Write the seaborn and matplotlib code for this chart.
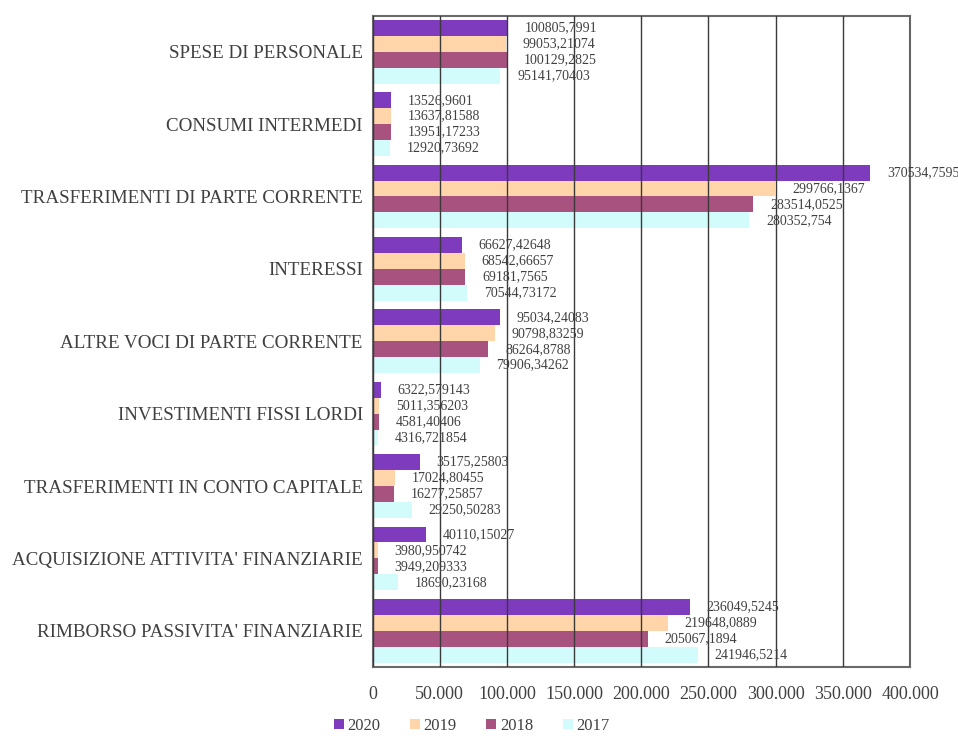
import matplotlib
matplotlib.use("Agg")
import matplotlib.pyplot as plt
from matplotlib.patches import Patch
from matplotlib.ticker import FuncFormatter, MultipleLocator, FixedLocator
import seaborn as sns
import pandas as pd
import numpy as np

categories = [
    "SPESE DI PERSONALE",
    "CONSUMI INTERMEDI",
    "TRASFERIMENTI DI PARTE CORRENTE",
    "INTERESSI",
    "ALTRE VOCI DI PARTE CORRENTE",
    "INVESTIMENTI FISSI LORDI",
    "TRASFERIMENTI IN CONTO CAPITALE",
    "ACQUISIZIONE ATTIVITA' FINANZIARIE",
    "RIMBORSO PASSIVITA' FINANZIARIE",
]
years = ["2020", "2019", "2018", "2017"]
v2020 = [100805.7991, 13526.9601, 370534.7595, 66627.42648, 95034.24083,
         6322.579143, 35175.25803, 40110.15027, 236049.5245]
v2019 = [99053.21074, 13637.81588, 299766.1367, 68542.66657, 90798.83259,
         5011.356203, 17024.80455, 3980.950742, 219648.0889]
v2018 = [100129.2825, 13951.17233, 283514.0525, 69181.7565, 86264.8788,
         4581.40406, 16277.25857, 3949.209333, 205067.1894]
v2017 = [95141.70403, 12920.73692, 280352.754, 70544.73172, 79906.34262,
         4316.721854, 29250.50283, 18690.23168, 241946.5214]
series = {"2020": v2020, "2019": v2019, "2018": v2018, "2017": v2017}
colors = {"2020": "#7E3BBE", "2019": "#FFD5A9", "2018": "#A8527F", "2017": "#D2FCFC"}

rows = []
for y in years:
    for c, v in zip(categories, series[y]):
        rows.append({"cat": c, "year": y, "val": v})
df = pd.DataFrame(rows)

sns.set_style("white")
plt.rcParams["font.family"] = ["Liberation Serif", "DejaVu Serif"]
text_col = "#404040"

fig = plt.figure(figsize=(9.58, 7.36), dpi=100)
ax = fig.add_axes([372.5 / 958, 1 - 667 / 736, (910 - 372.5) / 958, (667 - 15.5) / 736])

sns.barplot(data=df, y="cat", x="val", hue="year", hue_order=years,
            order=categories, palette=colors, orient="h", width=0.88,
            gap=0, saturation=1, errorbar=None, legend=False, ax=ax,
            edgecolor="none", linewidth=0)

# value labels
for cont, y in zip(ax.containers, years):
    for bar, v in zip(cont, series[y]):
        lab = repr(v).replace(".", ",")
        ax.annotate(lab, (bar.get_width(), bar.get_y() + bar.get_height() / 2),
                    xytext=(12, 0), textcoords="offset points", ha="left", va="center",
                    fontsize=10, color=text_col, annotation_clip=False)

ax.set_xlim(0, 400000)
ax.set_ylim(8.5, -0.5)
ax.xaxis.set_major_locator(MultipleLocator(50000))
ax.xaxis.set_major_formatter(FuncFormatter(lambda x, p: "0" if x == 0 else f"{int(x):,}".replace(",", ".")))
ax.set_xlabel("")
ax.set_ylabel("")
ax.grid(axis="x", color="#3a3a3a", linewidth=1)
ax.grid(axis="y", visible=False)
ax.set_axisbelow(False)

ax.tick_params(axis="x", direction="inout", length=9, width=1, color="#444444",
               labelsize=13, labelcolor=text_col, pad=9)
ax.tick_params(axis="y", which="major", length=0, labelsize=13.7, labelcolor=text_col, pad=7)
ax.yaxis.set_minor_locator(FixedLocator(np.arange(-0.5, 9, 1)))
ax.tick_params(axis="y", which="minor", length=6, width=1, color="#444444", direction="out")

for s in ax.spines.values():
    s.set_visible(True)
    s.set_color("#6a6a6a")
    s.set_linewidth(1.5)

handles = [Patch(facecolor=colors[y], edgecolor="none", label=y) for y in years]
fig.legend(handles=handles, loc="center left", bbox_to_anchor=(322 / 958, 1 - 726 / 736),
           ncol=4, frameon=False, handlelength=0.6, handleheight=0.6, handletextpad=0.2,
           columnspacing=1.8, fontsize=12, labelcolor=text_col, borderpad=0.2)

fig.savefig("out.png", dpi=100)
